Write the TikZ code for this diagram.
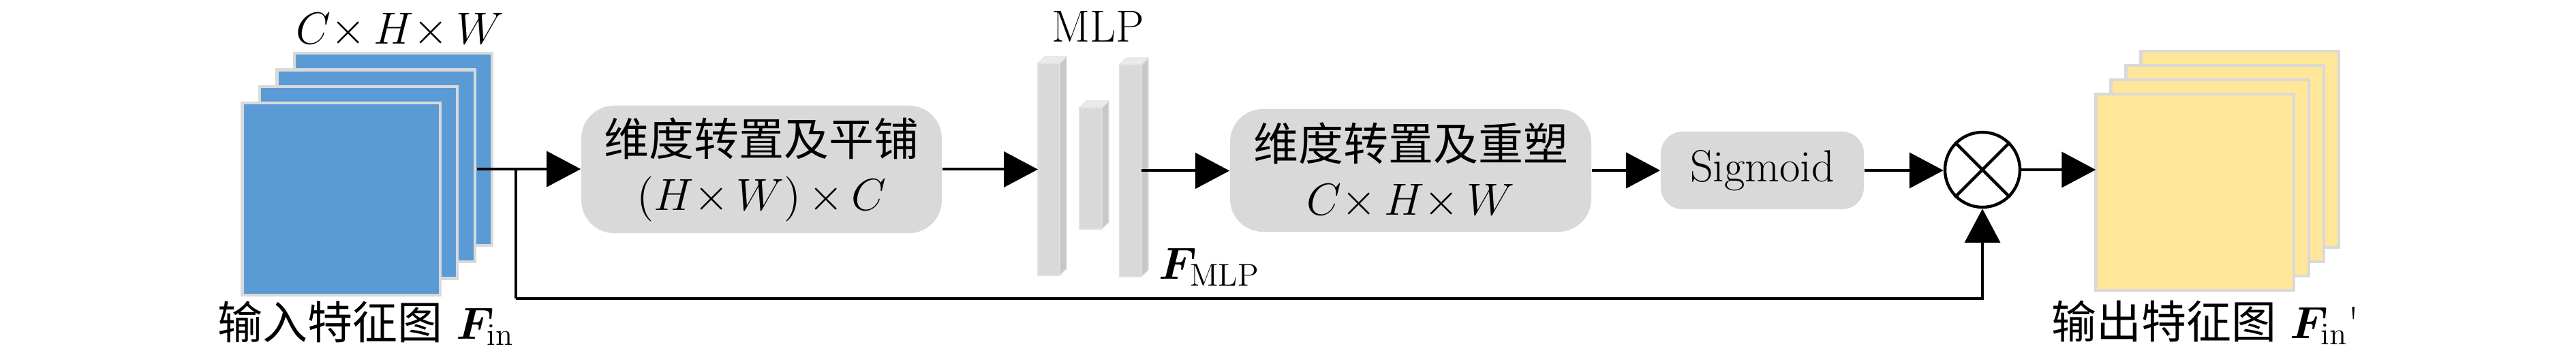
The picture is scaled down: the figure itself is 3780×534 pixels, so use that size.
\RequirePackage{fix-cm}
\documentclass[tikz,border=0pt]{standalone}
\usepackage{fontspec}
\usepackage{amsmath,bm}
\newfontfamily\cjk{Noto Sans CJK SC}
\usetikzlibrary{arrows.meta}
\definecolor{fblue}{HTML}{5B9BD5}
\definecolor{fyellow}{HTML}{FFE699}
\definecolor{shgray}{HTML}{D9D9D9}
\definecolor{boxgray}{HTML}{D9D9D9}
\definecolor{sidegray}{HTML}{C8C8C8}
\definecolor{topgray}{HTML}{EAEAEA}
\definecolor{barline}{HTML}{E2E2E2}
\begin{document}
\begin{tikzpicture}[x=0.25pt,y=-0.25pt,
  sheetB/.style={rectangle,draw=shgray,line width=1.1pt,fill=fblue,minimum width=72.6pt,minimum height=70.4pt,inner sep=0pt,outer sep=0pt},
  sheetY/.style={sheetB,fill=fyellow,minimum height=71.9pt},
  opbox/.style={rectangle,rounded corners=12pt,fill=boxgray,inner sep=0pt,align=center,font=\fontsize{16.5}{20}\selectfont},
  barf/.style={rectangle,fill=boxgray,draw=barline,line width=0.3pt,minimum width=8pt,inner sep=0pt,outer sep=0pt},
  arr/.style={line width=1pt,-{Triangle[length=12.5pt,width=13pt]}},
  ln/.style={line width=1pt},
  lbl/.style={font=\fontsize{16.5}{20}\selectfont,inner sep=0pt}
]
\useasboundingbox (0,0) rectangle (3780,534);
% input stack
\foreach \k in {3,2,1,0}{
  \node[sheetB] (in\k) at ({500.5+25.5*\k},{292-24.3*\k}) {};
}
% output stack
\foreach \k in {3,2,1,0}{
  \node[sheetY] (out\k) at ({3220.5+22*\k},{282-21*\k}) {};
}
% boxes
\node[opbox,minimum width=132.25pt,minimum height=46.75pt] (box1) at (1117.5,248.5)
  {{\cjk 维度转置及平铺}\\$(H{\times}\,W)\,{\times}\,C$};
\node[opbox,minimum width=132.5pt,minimum height=45pt] (box2) at (2070,250)
  {{\cjk 维度转置及重塑}\\$C{\times}\,H{\times}\,W$};
\node[opbox,rounded corners=8pt,minimum width=74.5pt,minimum height=28.5pt] (sig) at (2586,250) {Sigmoid};
% MLP bars
\node[barf,minimum height=77.75pt] (bar1) at (1539,248.5) {};
\node[barf,minimum height=44.5pt,minimum width=8.25pt] (bar2) at (1600.5,247) {};
\node[barf,minimum height=77.75pt] (bar3) at (1659,250.5) {};
\foreach \b in {bar1,bar2,bar3}{
  \filldraw[fill=sidegray,draw=barline,line width=0.3pt] (\b.north east) -- ++(10,-10) -- ([shift={(10,-10)}]\b.south east) -- (\b.south east) -- cycle;
  \filldraw[fill=topgray,draw=barline,line width=0.3pt] (\b.north west) -- ++(10,-10) -- ([shift={(10,-10)}]\b.north east) -- (\b.north east) -- cycle;
}
% multiply
\node[circle,draw,line width=1.1pt,minimum size=27.5pt,inner sep=0pt] (mul) at (2909,249) {};
\draw[line width=1.1pt] (mul.north west) -- (mul.south east);
\draw[line width=1.1pt] (mul.north east) -- (mul.south west);
% labels
\node[lbl,anchor=base] (tinp) at (587,65) {$C{\times}\,H{\times}\,W$};
\node[lbl,anchor=base] (tmlp) at (1611,62) {MLP};
\node[lbl,anchor=base west] (tfmlp) at (1700,410) {$\bm{F}_{\mathrm{MLP}}$};
\node[lbl,anchor=base] (tin) at (537,497) {{\cjk 输入特征图} $\bm{F}_{\mathrm{in}}$};
\node[lbl,anchor=base] (tout) at (3236,496) {{\cjk 输出特征图} $\bm{F}_{\mathrm{in}}$\textquotesingle};
% connectors
\coordinate (src) at (700,248);
\coordinate (split) at (757,248);
\coordinate (loopc) at (757,438);
\draw[arr] (src) -- (src -| box1.west);
\draw[arr] (box1.east) -- (box1.east -| bar1.west);
\draw[arr] (bar3.east) -- (bar3.east -| box2.west);
\draw[arr] (box2.east) -- (box2.east -| sig.west);
\draw[arr] (sig.east) -- (sig.east -| mul.west);
\draw[arr] (mul.east) -- (mul.east -| out0.west);
\draw[ln] (split) -- (loopc);
\draw[arr] (loopc) -| (mul.south);
\end{tikzpicture}
\end{document}
